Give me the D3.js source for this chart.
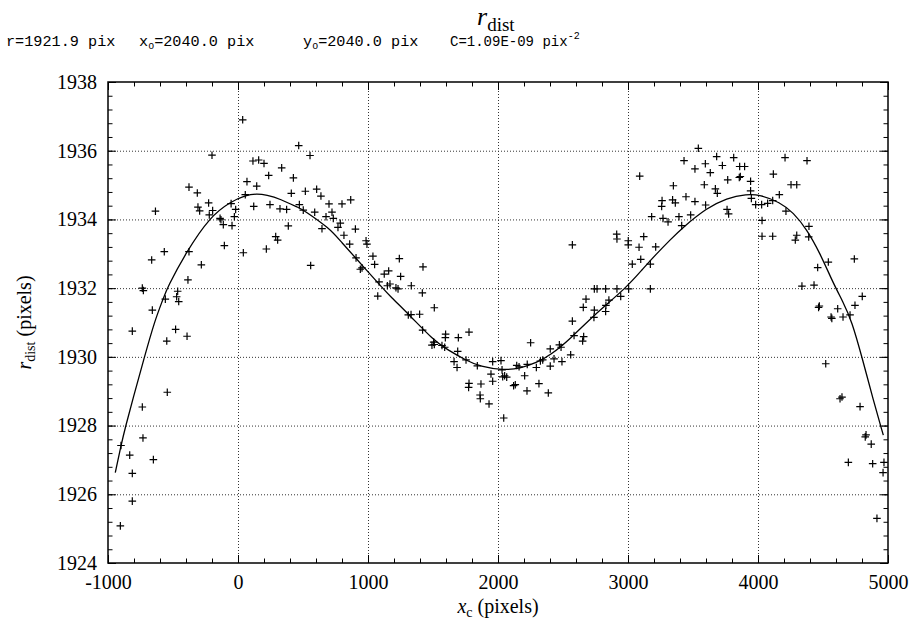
<!DOCTYPE html>
<html><head><meta charset="utf-8">
<script src="https://cdn.jsdelivr.net/npm/d3@7"></script>
<style>body{margin:0;background:#fff}</style>
</head><body>
<svg id="c" width="918" height="628"></svg>
<script>
// Measured points (x_c, r_dist)
const ptX = [36,467,-200,115,159,200,336,236,426,69,144,-377,-313,410,56,-226,-53,-308,-295,121,246,323,374,472,-635,-195,-18,-221,-138,-131,-28,-113,-46,387,290,305,-105,218,-567,-377,41,-664,-282,-385,-736,-728,-559,-464,-472,-456,-659,
-813,-480,-548,-392,-544,-736,-731,-900,-833,-651,-813,-813,-905,
554,518,605,638,502,700,800,867,590,723,677,733,787,769,646,903,815,985,992,859,1038,908,1241,1051,559,954,941,1423,1125,1159,1251,1085,1149,1169,1215,1231,1333,1418,1075,1510,1310,1331,1397,
1420,1597,1595,1695,1777,1505,1492,1510,1569,1590,1690,1754,1662,1685,1841,1777,1774,
2913,2915,3002,3002,3121,3085,3213,3098,3033,3172,2572,2741,2762,2828,2915,3005,3172,2944,2677,2853,2656,2741,2828,2738,2572,2585,2659,2651,2251,2402,2472,2485,2559,2431,2492,1959,2023,2144,2162,2225,2295,2326,2344,2402,2031,1946,2036,2051,2067,2205,1869,1959,2120,2133,2315,1862,1864,1931,2223,2387,2044,
3541,3431,3682,3813,3595,3726,3515,3859,3897,3633,3856,3864,3090,3767,3943,3587,3349,3672,3687,3943,3446,3262,3259,3343,3364,3515,3597,3949,3982,4028,4074,3762,3774,3182,3392,3482,3269,3308,3413,4031,4113,4164,4118,4208,4254,4298,4215,4031,4113,4298,4287,2830,
4377,4392,4390,4459,4541,4741,4338,4431,4802,4472,4466,4613,4746,4562,4568,4654,4708,4521,4631,4646,4785,4831,4825,4871,4695,4882,4969,4962,4915];
const ptY = [1936.9,1936.15,1935.87,1935.7,1935.73,1935.63,1935.5,1935.28,1935.21,1935.1,1934.97,1934.94,1934.77,1934.76,1934.72,1934.48,1934.46,1934.36,1934.25,1934.38,1934.43,1934.31,1934.29,1934.43,1934.24,1934.26,1934.29,1934.13,1934.03,1933.99,1934.08,1933.85,1933.82,1933.81,1933.5,1933.4,1933.24,1933.14,1933.06,1933.06,1933.03,1932.82,1932.68,1932.24,1932.0,1931.93,1931.68,1931.91,1931.75,1931.61,1931.36,
1930.75,1930.8,1930.46,1930.6,1928.97,1928.54,1927.64,1927.42,1927.14,1927.01,1926.61,1925.8,1925.08,
1935.86,1934.82,1934.88,1934.68,1934.27,1934.45,1934.45,1934.57,1934.21,1934.21,1934.08,1934.03,1933.89,1933.77,1933.73,1933.72,1933.54,1933.38,1933.28,1933.28,1932.93,1932.88,1932.86,1932.69,1932.66,1932.59,1932.55,1932.62,1932.41,1932.5,1932.34,1932.18,1932.07,1932.12,1932.01,1931.98,1932.07,1931.86,1931.77,1931.43,1931.22,1931.23,1931.24,
1930.78,1930.66,1930.56,1930.56,1930.72,1930.43,1930.34,1930.36,1930.33,1930.28,1930.16,1929.91,1929.86,1929.69,1929.74,1929.23,1929.11,
1933.57,1933.43,1933.38,1933.26,1933.5,1933.19,1933.2,1932.84,1932.7,1932.7,1933.26,1931.98,1931.98,1931.98,1931.98,1931.98,1931.98,1931.76,1931.68,1931.65,1931.44,1931.36,1931.32,1931.15,1931.04,1930.62,1930.59,1930.46,1930.41,1930.23,1930.35,1930.28,1930.06,1929.94,1929.86,1929.86,1929.89,1929.75,1929.71,1929.78,1929.69,1929.88,1929.91,1929.73,1929.62,1929.5,1929.42,1929.45,1929.41,1929.45,1929.21,1929.29,1929.16,1929.19,1929.22,1928.89,1928.78,1928.63,1929.01,1928.95,1928.22,
1936.07,1935.71,1935.83,1935.8,1935.62,1935.57,1935.47,1935.54,1935.54,1935.36,1935.22,1935.25,1935.26,1935.15,1935.11,1935.01,1934.98,1934.89,1934.76,1934.83,1934.66,1934.55,1934.38,1934.57,1934.48,1934.52,1934.42,1934.61,1934.43,1934.43,1934.47,1934.29,1934.16,1934.08,1934.08,1934.13,1934.03,1933.93,1933.82,1933.97,1934.55,1934.72,1935.32,1935.8,1935.01,1935.01,1934.24,1933.51,1933.51,1933.54,1933.4,1931.5,
1935.71,1933.8,1933.49,1932.6,1932.76,1932.85,1932.06,1932.09,1931.76,1931.48,1931.44,1931.4,1931.5,1931.16,1931.12,1931.16,1931.22,1929.8,1928.78,1928.83,1928.55,1927.73,1927.67,1927.46,1926.93,1926.89,1926.93,1926.63,1925.3];

// Fitted curve
const fitX = [-944,-900,-866,-807,-723,-641,-574,-546,-397,-215,-59,56,144,221,323,472,502,708,785,964,1113,1169,1323,1503,1605,1759,1862,2041,2169,2297,2400,2564,2733,2985,3118,3220,3323,3426,3605,3759,3913,4015,4169,4272,4374,4477,4579,4654,4721,4803,4887,4964];
const fitY = [1926.63,1927.42,1927.96,1928.8,1929.95,1931.05,1931.7,1932.0,1933.06,1934.08,1934.51,1934.7,1934.75,1934.71,1934.6,1934.33,1934.28,1933.73,1933.38,1932.63,1932.0,1931.77,1931.2,1930.49,1930.22,1929.89,1929.72,1929.61,1929.66,1929.83,1930.04,1930.55,1931.2,1932.0,1932.58,1933.0,1933.4,1933.78,1934.33,1934.62,1934.74,1934.72,1934.5,1934.2,1933.72,1933.02,1932.14,1931.6,1931.05,1929.95,1928.74,1927.72];

const xTicks = [-1000,0,1000,2000,3000,4000,5000];
const yTicks = [1924,1926,1928,1930,1932,1934,1936,1938];

const svg = d3.select("#c");
const L=108,R=888,T=82,B=563;
const x = d3.scaleLinear([-1000,5000],[L,R]);
const y = d3.scaleLinear([1924,1938],[B,T]);
const xMinor = d3.range(-1000,5001,200);
const yMinor = d3.range(0,36).map(i=>1924+i*0.4);

const serif = "'Liberation Serif','Times New Roman',serif";

// grid
const gg = svg.append("g");
gg.append("g").attr("transform",`translate(0,${B})`)
  .call(d3.axisBottom(x).tickValues(xTicks.slice(1,-1)).tickSize(-(B-T)).tickFormat(""))
  .call(g=>g.select(".domain").remove());
gg.append("g").attr("transform",`translate(${L},0)`)
  .call(d3.axisLeft(y).tickValues(yTicks.slice(1,-1)).tickSize(-(R-L)).tickFormat(""))
  .call(g=>g.select(".domain").remove());
gg.selectAll("line").attr("stroke","#333").attr("stroke-dasharray","1,2").attr("stroke-width",1);

// minor & major ticks on all sides
function ticks(axis, tr, vals, size){
  svg.append("g").attr("transform",tr)
    .call(axis.tickValues(vals).tickSize(size).tickFormat(""))
    .call(g=>g.select(".domain").remove())
    .selectAll("line").attr("stroke","#000").attr("stroke-width",1);
}
ticks(d3.axisBottom(x), `translate(0,${B})`, xMinor, -4.5);
ticks(d3.axisTop(x), `translate(0,${T})`, xMinor, -4.5);
ticks(d3.axisLeft(y), `translate(${L},0)`, yMinor, -4.5);
ticks(d3.axisRight(y), `translate(${R},0)`, yMinor, -4.5);
ticks(d3.axisBottom(x), `translate(0,${B})`, xTicks, -8);
ticks(d3.axisTop(x), `translate(0,${T})`, xTicks, -8);
ticks(d3.axisLeft(y), `translate(${L},0)`, yTicks, -8);
ticks(d3.axisRight(y), `translate(${R},0)`, yTicks, -8);

// tick labels
const fmt = d => String(d);
const xl = svg.append("g").attr("transform",`translate(0,${B})`)
  .call(d3.axisBottom(x).tickValues(xTicks).tickSize(0).tickPadding(12).tickFormat(fmt));
xl.select(".domain").remove();
xl.selectAll("text").attr("font-family",serif).attr("font-size",20).attr("fill","#000");
const yl = svg.append("g").attr("transform",`translate(${L},0)`)
  .call(d3.axisLeft(y).tickValues(yTicks).tickSize(0).tickPadding(11).tickFormat(fmt));
yl.select(".domain").remove();
yl.selectAll("text").attr("font-family",serif).attr("font-size",20).attr("fill","#000");

// frame
svg.append("rect").attr("x",L).attr("y",T).attr("width",R-L).attr("height",B-T)
  .attr("fill","none").attr("stroke","#000").attr("stroke-width",1.5);

// curve
const fit = fitX.map((v,i)=>[v,fitY[i]]);
svg.append("path").datum(fit)
  .attr("d", d3.line().x(d=>x(d[0])).y(d=>y(d[1])).curve(d3.curveBasis))
  .attr("fill","none").attr("stroke","#000").attr("stroke-width",1.3);

// points
const pts = ptX.map((v,i)=>[v,ptY[i]]);
svg.append("g").selectAll("path").data(pts).join("path")
  .attr("transform",d=>`translate(${x(d[0])},${y(d[1])})`)
  .attr("d","M-3.8,0H3.8M0,-3.8V3.8")
  .attr("stroke","#000").attr("stroke-width",1.2).attr("fill","none");

// titles
const t = svg.append("text").attr("x",477).attr("y",25).attr("font-family",serif).attr("fill","#000");
t.append("tspan").attr("font-style","italic").attr("font-size",26).text("r");
t.append("tspan").attr("font-size",19).attr("dy",6).text("dist");

const mono = "'Liberation Mono','Courier New',monospace";
const sub = svg.append("g").attr("font-family",mono).attr("font-size",15.2).attr("fill","#000");
sub.append("text").attr("x",6).attr("y",46).text("r=1921.9 pix");
const s2 = sub.append("text").attr("x",139).attr("y",46);
s2.append("tspan").text("x");
s2.append("tspan").attr("font-size",10).attr("dy",3).text("o");
s2.append("tspan").attr("dy",-3).text("=2040.0 pix");
const s3 = sub.append("text").attr("x",303).attr("y",46);
s3.append("tspan").text("y");
s3.append("tspan").attr("font-size",10).attr("dy",3).text("o");
s3.append("tspan").attr("dy",-3).text("=2040.0 pix");
const s4 = sub.append("text").attr("x",450).attr("y",46);
s4.append("tspan").attr("font-size",14).text("C=1.09E-09 pix");
s4.append("tspan").attr("font-size",10).attr("dy",-7).text("-2");

// axis titles
const xt = svg.append("text").attr("x",498).attr("y",613).attr("text-anchor","middle")
  .attr("font-family",serif).attr("font-size",20).attr("fill","#000");
xt.append("tspan").attr("font-style","italic").text("x");
xt.append("tspan").attr("font-size",14).attr("dy",4).text("c");
xt.append("tspan").attr("dy",-4).text(" (pixels)");

const yt = svg.append("text").attr("transform",`translate(31,${(T+B)/2}) rotate(-90)`).attr("text-anchor","middle")
  .attr("font-family",serif).attr("font-size",20).attr("fill","#000");
yt.append("tspan").attr("font-style","italic").text("r");
yt.append("tspan").attr("font-size",14).attr("dy",4).text("dist");
yt.append("tspan").attr("dy",-4).text(" (pixels)");
</script>
</body></html>
